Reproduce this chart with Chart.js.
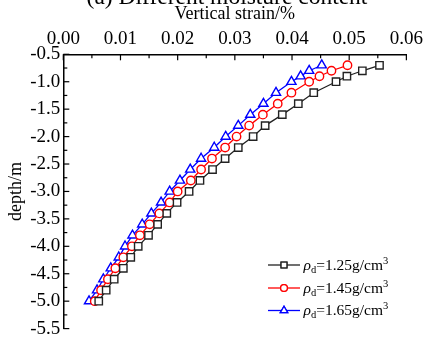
<!DOCTYPE html>
<html>
<head>
<meta charset="utf-8">
<script src="https://cdn.jsdelivr.net/npm/chart.js@4"></script>
<style>
html,body{margin:0;padding:0;background:#fff;}
#wrap{position:relative;width:427px;height:343px;}
</style>
</head>
<body>
<div id="wrap"><canvas id="c" width="427" height="343"></canvas></div>
<script>
// ---- data ----
const depth = [-0.7,-0.8,-0.9,-1.0,-1.2,-1.4,-1.6,-1.8,-2.0,-2.2,-2.4,-2.6,-2.8,-3.0,-3.2,-3.4,-3.6,-3.8,-4.0,-4.2,-4.4,-4.6,-4.8,-5.0];
const strain125 = [0.0553,0.0523,0.0496,0.0477,0.0438,0.0411,0.0383,0.0353,0.0332,0.0306,0.0283,0.0261,0.0239,0.0220,0.0199,0.0181,0.0165,0.0149,0.0131,0.0118,0.0105,0.0089,0.0075,0.0062];
const strain145 = [0.0497,0.0469,0.0448,0.0430,0.0399,0.0375,0.0349,0.0325,0.0303,0.0283,0.0260,0.0241,0.0223,0.0200,0.0186,0.0168,0.0151,0.0134,0.0120,0.0105,0.0091,0.0078,0.0066,0.0055];
const strain165 = [0.0452,0.0430,0.0415,0.0399,0.0372,0.0350,0.0327,0.0306,0.0284,0.0264,0.0241,0.0222,0.0204,0.0186,0.0171,0.0154,0.0138,0.0121,0.0108,0.0097,0.0083,0.0070,0.0059,0.0045];
const seriesValues = ['1.25','1.45','1.65'];
const xTicks = [0.00,0.01,0.02,0.03,0.04,0.05,0.06];
const yTicks = [-5.5,-5.0,-4.5,-4.0,-3.5,-3.0,-2.5,-2.0,-1.5,-1.0,-0.5];
const chartTitle = '(a) Different moisture content';
const xTitle = 'Vertical strain/%';
const yTitle = 'depth/m';

const FONT = '"Liberation Serif","Times New Roman",serif';
const colors = ['#222222','#ff0000','#0000ff'];
const styles = ['rect','circle','triangle'];
const radii = [5.2,4.2,5.3];
const strains = [strain125,strain145,strain165];

const datasets = strains.map((s,k)=>({
  label: seriesValues[k],
  data: depth.map((d,i)=>({x:s[i], y:d})),
  showLine: true,
  borderColor: colors[k],
  backgroundColor: '#ffffff',
  borderWidth: 1.3,
  pointStyle: styles[k],
  pointRadius: radii[k],
  pointBorderWidth: 1.4,
  pointBackgroundColor: '#ffffff',
  pointBorderColor: colors[k],
  tension: 0
}));

const inTicks = {
  id:'inTicks',
  afterDraw(chart){
    const {ctx, chartArea:{left,top}, scales:{x,y}} = chart;
    ctx.save();
    ctx.strokeStyle='#000'; ctx.lineWidth=1.2;
    xTicks.forEach((v,i)=>{
      const px = x.getPixelForValue(v);
      ctx.beginPath(); ctx.moveTo(px, top); ctx.lineTo(px, top+6); ctx.stroke();
      if (i < xTicks.length-1) {
        const m = x.getPixelForValue((v+xTicks[i+1])/2);
        ctx.beginPath(); ctx.moveTo(m, top); ctx.lineTo(m, top+4); ctx.stroke();
      }
    });
    yTicks.forEach((v,i)=>{
      const py = y.getPixelForValue(v);
      ctx.beginPath(); ctx.moveTo(left, py); ctx.lineTo(left+6, py); ctx.stroke();
      if (i < yTicks.length-1) {
        const m = y.getPixelForValue((v+yTicks[i+1])/2);
        ctx.beginPath(); ctx.moveTo(left, m); ctx.lineTo(left+4, m); ctx.stroke();
      }
    });
    ctx.restore();
  }
};

const titleAndLegend = {
  id:'titleAndLegend',
  afterDraw(chart){
    const ctx = chart.ctx;
    ctx.save();
    ctx.fillStyle='#000';
    ctx.font = '23.5px ' + FONT;
    ctx.textAlign='center'; ctx.textBaseline='alphabetic';
    ctx.fillText(chartTitle, 227, 4);
    // legend
    const rowsY = [265, 288, 310.5];
    seriesValues.forEach((val,k)=>{
      const yy = rowsY[k];
      ctx.strokeStyle = colors[k]; ctx.lineWidth = 1.3;
      ctx.beginPath(); ctx.moveTo(268, yy); ctx.lineTo(300, yy); ctx.stroke();
      Chart.helpers.drawPoint(ctx, {pointStyle: styles[k], radius: radii[k]*0.8, borderWidth: 1.3, rotation:0}, 284, yy);
      ctx.fillStyle='#fff'; ctx.fill(); ctx.strokeStyle = colors[k]; ctx.stroke();
      ctx.fillStyle = '#000';
      ctx.textAlign='left';
      let tx = 303.5, by = yy + 4.5;
      ctx.font = 'italic 15.5px ' + FONT;
      ctx.fillText('ρ', tx, by); tx += ctx.measureText('ρ').width;
      ctx.font = '10.5px ' + FONT;
      ctx.fillText('d', tx, by + 3); tx += ctx.measureText('d').width;
      ctx.font = '15.5px ' + FONT;
      const t = '=' + val + 'g/cm';
      ctx.fillText(t, tx, by); tx += ctx.measureText(t).width;
      ctx.font = '10.5px ' + FONT;
      ctx.fillText('3', tx, by - 6);
    });
    ctx.restore();
  }
};

new Chart(document.getElementById('c'), {
  type: 'scatter',
  data: { datasets },
  options: {
    responsive: false,
    animation: false,
    layout: { padding: { left: 0, top: 0, right: 15.5, bottom: 9.5 } },
    plugins: { legend: { display: false }, tooltip: { enabled: false }, title: { display: false } },
    scales: {
      x: {
        type: 'linear', position: 'top', min: 0, max: 0.06,
        afterBuildTicks: (s)=>{ s.ticks = xTicks.map(v=>({value:v})); },
        afterFit: (s)=>{ s.height = 54.3; },
        ticks: { color:'#000', font:{family:FONT, size:19}, padding: 4, maxRotation:0, autoSkip:false,
                 callback: (v)=>Number(v).toFixed(2) },
        grid: { display:false, drawTicks:false },
        border: { display:true, color:'#000', width:1.5 },
        title: { display:true, text:xTitle, color:'#000', font:{family:FONT, size:18}, padding:{top:3.5,bottom:0} }
      },
      y: {
        type: 'linear', min: -5.5, max: -0.5,
        afterBuildTicks: (s)=>{ s.ticks = yTicks.map(v=>({value:v})); },
        afterFit: (s)=>{ s.width = 63.3; },
        ticks: { color:'#000', font:{family:FONT, size:19}, padding: 3, autoSkip:false,
                 callback: (v)=>Number(v).toFixed(1) },
        grid: { display:false, drawTicks:false },
        border: { display:true, color:'#000', width:1.5 },
        title: { display:true, text:yTitle, color:'#000', font:{family:FONT, size:18}, padding:{top:5,bottom:0} }
      }
    }
  },
  plugins: [inTicks, titleAndLegend]
});
</script>
</body>
</html>
